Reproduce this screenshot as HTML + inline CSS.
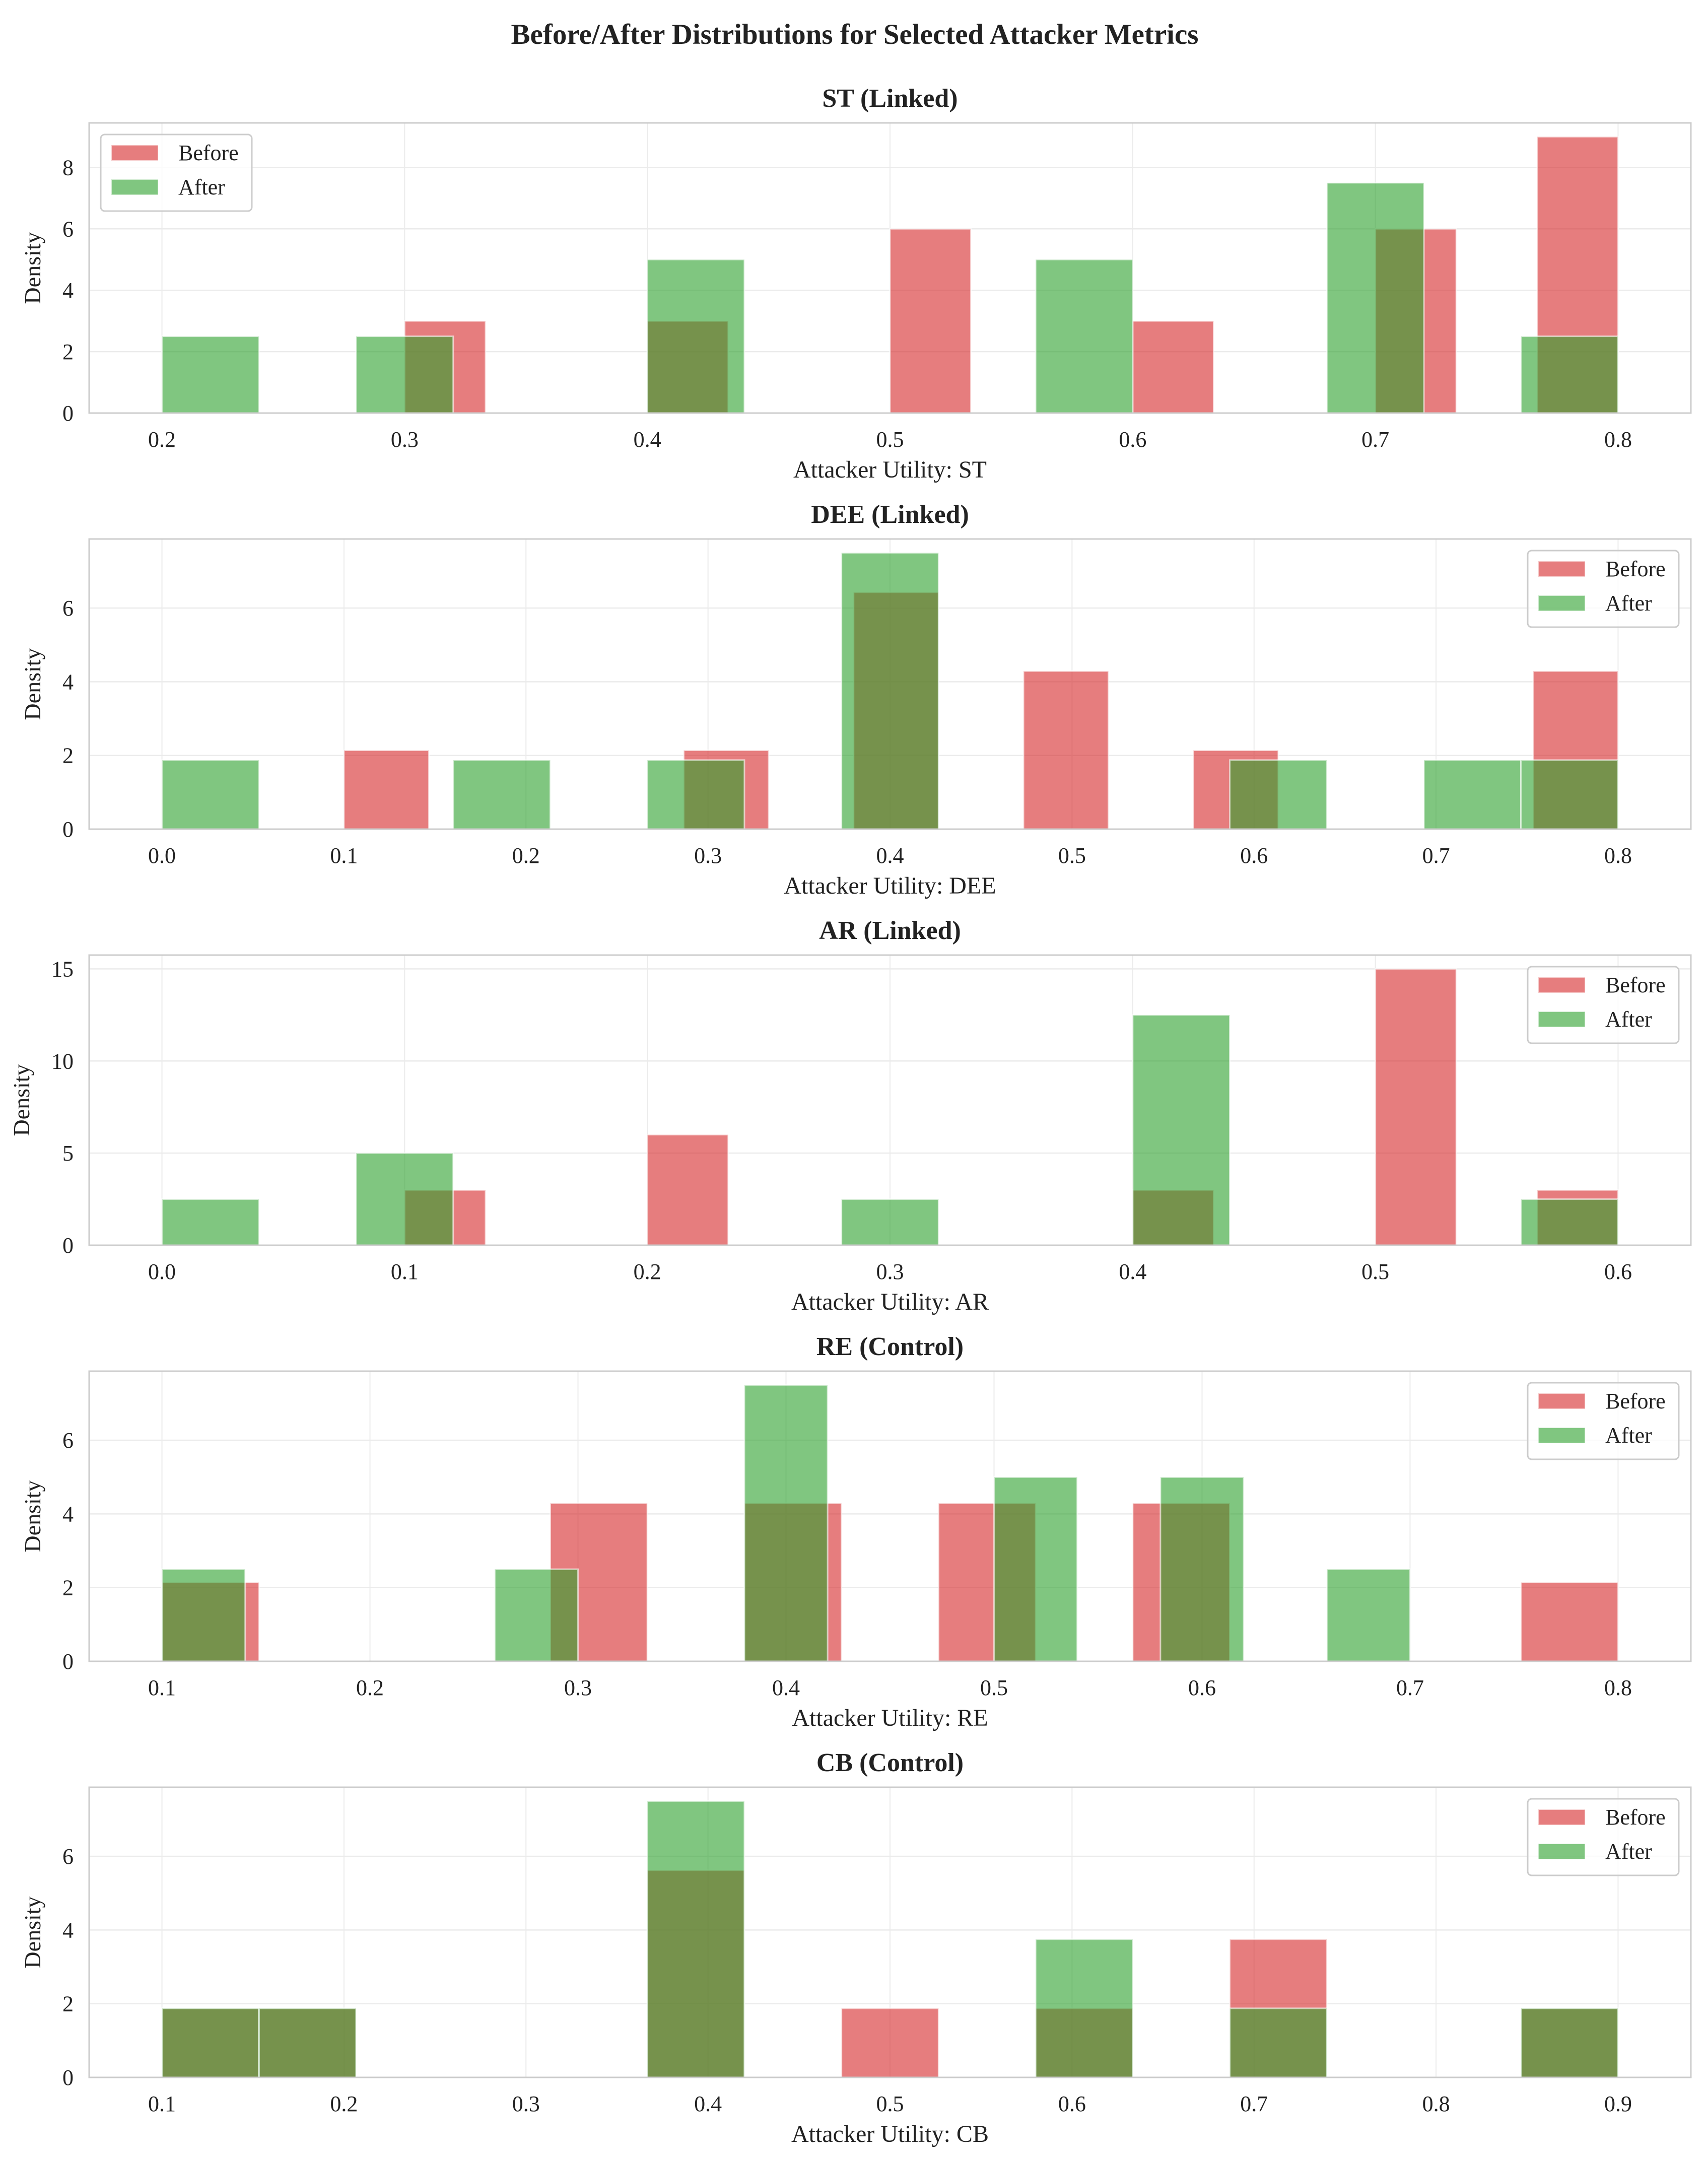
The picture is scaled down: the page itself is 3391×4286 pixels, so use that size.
<!DOCTYPE html>
<html><head><meta charset="utf-8"><style>
html,body{margin:0;padding:0;background:#fff;}
svg{display:block;font-family:"Liberation Serif","DejaVu Serif",serif;}
</style></head><body>
<svg id="fig" width="3391" height="4286" viewBox="0 0 3391 4286" xmlns="http://www.w3.org/2000/svg">
<rect width="3391" height="4286" fill="#fff"/>
<text x="1697" y="87" text-anchor="middle" font-size="57" font-weight="bold" fill="#222">Before/After Distributions for Selected Attacker Metrics</text>
</svg>
<script>
// ---- data ----
const panelTitles = ["ST (Linked)", "DEE (Linked)", "AR (Linked)", "RE (Control)", "CB (Control)"];
const xLabels = ["Attacker Utility: ST", "Attacker Utility: DEE", "Attacker Utility: AR", "Attacker Utility: RE", "Attacker Utility: CB"];
const xTicks = [
  [0.2,0.3,0.4,0.5,0.6,0.7,0.8],
  [0.0,0.1,0.2,0.3,0.4,0.5,0.6,0.7,0.8],
  [0.0,0.1,0.2,0.3,0.4,0.5,0.6],
  [0.1,0.2,0.3,0.4,0.5,0.6,0.7,0.8],
  [0.1,0.2,0.3,0.4,0.5,0.6,0.7,0.8,0.9]
];
const yTicks = [[0,2,4,6,8],[0,2,4,6],[0,5,10,15],[0,2,4,6],[0,2,4,6]];
const beforeRange = [[0.3,0.8],[0.1,0.8],[0.1,0.6],[0.1,0.8],[0.1,0.9]];
const afterRange = [[0.2,0.8],[0.0,0.8],[0.0,0.6],[0.1,0.7],[0.1,0.9]];
const beforeDensity = [
  [3,0,0,3,0,0,6,0,0,3,0,0,6,0,9],
  [2.14,0,0,0,2.14,0,6.43,0,4.29,0,2.14,0,0,0,4.29],
  [3,0,0,6,0,0,0,0,0,3,0,0,15,0,3],
  [2.14,0,0,0,4.29,0,4.29,0,4.29,0,4.29,0,0,0,2.14],
  [1.875,1.875,0,0,0,5.625,0,1.875,0,1.875,0,3.75,0,0,1.875]
];
const afterDensity = [
  [2.5,0,2.5,0,0,5,0,0,0,5,0,0,7.5,0,2.5],
  [1.875,0,0,1.875,0,1.875,0,7.5,0,0,0,1.875,0,1.875,1.875],
  [2.5,0,5,0,0,0,0,2.5,0,0,12.5,0,0,0,2.5],
  [2.5,0,0,0,2.5,0,0,7.5,0,0,5,0,5,0,2.5],
  [1.875,1.875,0,0,0,7.5,0,0,0,3.75,0,1.875,0,0,1.875]
];
const legendCorner = ["left","right","right","right","right"];

// ---- drawing ----
const NS = "http://www.w3.org/2000/svg";
const svg = document.getElementById("fig");
function mk(tag, attrs, parent){
  const e = document.createElementNS(NS, tag);
  for (const k in attrs) e.setAttribute(k, attrs[k]);
  (parent||svg).appendChild(e);
  return e;
}
const AX_L = 177, AX_R = 3357, AX_H = 576;
const CX = (AX_L + AX_R)/2;
const RED = "#d62728", GREEN = "#2ca02c";

for (let p = 0; p < 5; p++) {
  const top = 244 + p*826, bot = top + AX_H;
  const g = mk("g", {});
  
  
  const xt = xTicks[p];
  const xmin = xt[0], xmax = xt[xt.length-1], r = xmax - xmin;
  const d0 = xmin - 0.05*r, d1 = xmax + 0.05*r;
  const xs = v => AX_L + (v - d0)/(d1 - d0)*(AX_R - AX_L);
  const maxD = Math.max(...beforeDensity[p], ...afterDensity[p]);
  const ymax = maxD*1.05;
  const ys = v => bot - v/ymax*AX_H;

  yTicks[p].forEach(t => {
    const l = mk("line", {x1:AX_L, x2:AX_R, y1:ys(t), y2:ys(t), stroke:"#ebebeb", "stroke-width":2.5}, g);
    
    
    const tx = mk("text", {x:146, y:ys(t)+15, "text-anchor":"end", "font-size":44, fill:"#222"}, g);
    tx.textContent = String(t);
    
    
  });
  xt.forEach(t => {
    const l = mk("line", {x1:xs(t), x2:xs(t), y1:top, y2:bot, stroke:"#ebebeb", "stroke-width":2}, g);
    
    
    const tx = mk("text", {x:xs(t), y:bot+67, "text-anchor":"middle", "font-size":44, fill:"#222"}, g);
    tx.textContent = t.toFixed(1);
    
    
  });

  const series = [[beforeRange[p], beforeDensity[p], RED, "before"], [afterRange[p], afterDensity[p], GREEN, "after"]];
  series.forEach(([rg, dens, col, nm]) => {
    const w = (rg[1]-rg[0])/dens.length;
    dens.forEach((v, i) => {
      if (v <= 0) return;
      const a = rg[0] + i*w, b = a + w;
      const rc = mk("rect", {x:xs(a), y:ys(v), width:xs(b)-xs(a), height:ys(0)-ys(v), fill:col, "fill-opacity":0.6, stroke:"#fff", "stroke-opacity":0.6, "stroke-width":3}, g);
      
      
    });
  });

  const fr = mk("rect", {x:AX_L, y:top, width:AX_R-AX_L, height:AX_H, fill:"none", stroke:"#cccccc", "stroke-width":3}, g);
  
  

  const st = mk("text", {x:CX, y:top-32, "text-anchor":"middle", "font-size":52, "font-weight":"bold", fill:"#222"}, g);
  st.textContent = panelTitles[p];
  
  
  const xl = mk("text", {x:CX, y:bot+128, "text-anchor":"middle", "font-size":48, fill:"#222"}, g);
  xl.textContent = xLabels[p];
  
  
  const ylx = p === 2 ? 58 : 80;
  const yl = mk("text", {x:ylx, y:top+AX_H/2, "text-anchor":"middle", "font-size":46, fill:"#222", transform:`rotate(-90 ${ylx} ${top+AX_H/2})`}, g);
  yl.textContent = "Density";
  
  

  const lw = 300, lh = 152;
  const lx = legendCorner[p] === "left" ? AX_L+23 : AX_R-24-lw;
  const ly = top + 23;
  const lg = mk("g", {}, g);
  
  
  mk("rect", {x:lx, y:ly, width:lw, height:lh, rx:8, fill:"#fff", "fill-opacity":0.8, stroke:"#cccccc", "stroke-width":3}, lg);
  [["Before", RED], ["After", GREEN]].forEach(([lab, col], i) => {
    const py = ly + 21 + i*68;
    const pr = mk("rect", {x:lx+21, y:py, width:93, height:31, fill:col, "fill-opacity":0.6, stroke:"#fff", "stroke-opacity":0.6, "stroke-width":2}, lg);
    
    
    const tx = mk("text", {x:lx+154, y:py+30, "font-size":44, fill:"#222"}, lg);
    tx.textContent = lab;
    
    
  });
}
</script>
</body></html>
